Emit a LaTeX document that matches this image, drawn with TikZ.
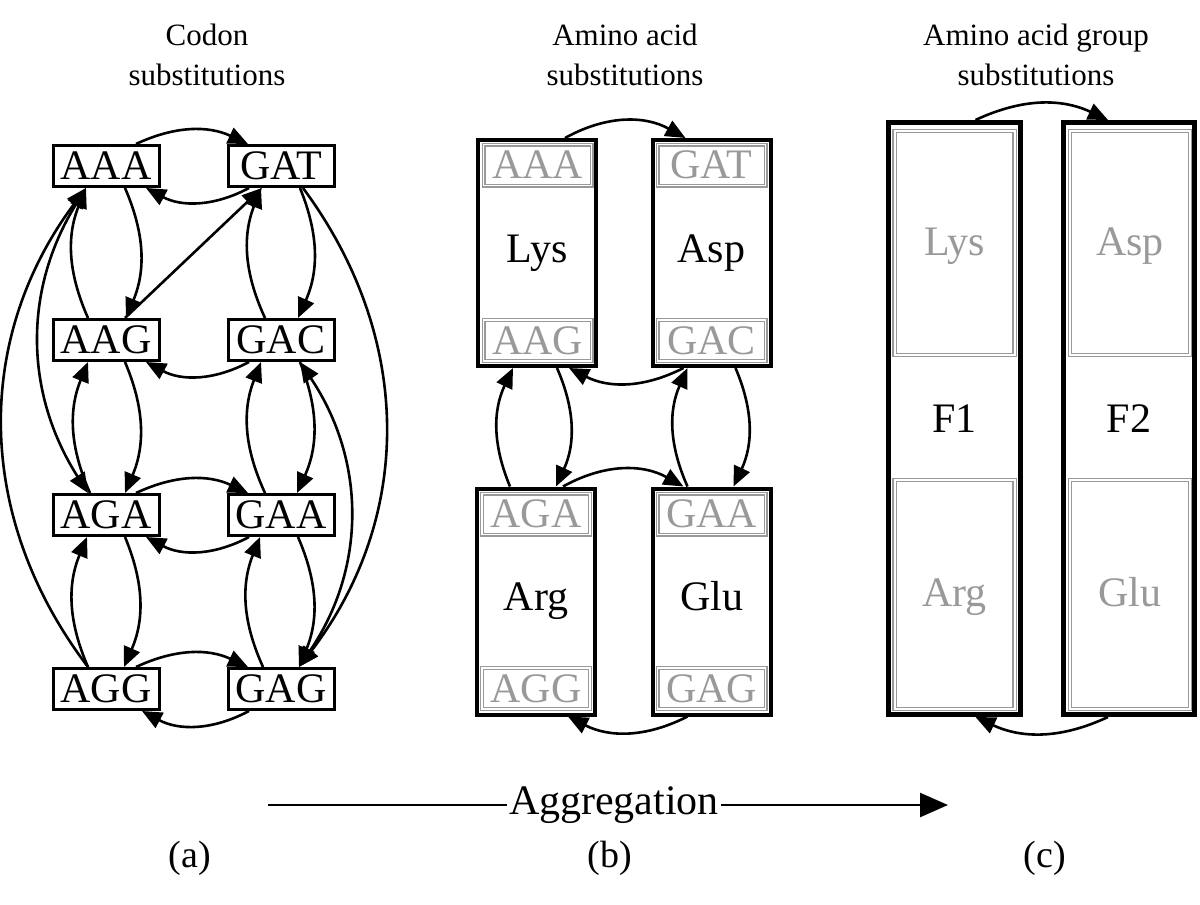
\documentclass[tikz,border=0pt]{standalone}
\usepackage{fontspec}
\setmainfont{Liberation Serif}
\usetikzlibrary{arrows.meta}
\definecolor{codongray}{HTML}{999999}

\begin{document}
\begin{tikzpicture}[x=0.5pt, y=0.5pt,
  >={Triangle[length=10pt,width=8.5pt]},
  edge/.style={line width=1.3pt},
  codon/.style={rectangle, draw=black, line width=1.5pt, minimum width=53pt, minimum height=20.5pt, inner sep=0pt, font=\fontsize{21pt}{25pt}\selectfont},
  acid/.style={rectangle, draw=black, line width=2pt, minimum width=59pt, minimum height=113pt, inner sep=0pt, text height=14.7pt, text depth=5.25pt, font=\fontsize{21pt}{25pt}\selectfont},
  graycodon/.style={rectangle, draw=codongray, line width=0.6pt, double=white, double distance=0.8pt, minimum width=54pt, minimum height=20.5pt, inner sep=0pt, text=codongray, font=\fontsize{21pt}{25pt}\selectfont},
  group/.style={rectangle, draw=black, line width=2.5pt, minimum width=66pt, minimum height=296pt, inner sep=0pt, font=\fontsize{21pt}{25pt}\selectfont},
  grayacid/.style={rectangle, draw=codongray, line width=0.6pt, double=white, double distance=1pt, minimum width=60pt, inner sep=0pt, text height=14.7pt, text depth=2.5pt, text=codongray, font=\fontsize{21pt}{25pt}\selectfont},
  title/.style={align=center, font=\fontsize{15.5pt}{20pt}\selectfont},
  caption/.style={font=\fontsize{19pt}{23pt}\selectfont}]
\useasboundingbox (0,0) rectangle (1200,-905);

\node[title] (ta) at (207,-55) {Codon\\substitutions};
\node[title] (tb) at (625,-55) {Amino acid\\substitutions};
\node[title] (tc) at (1036,-55) {Amino acid group\\substitutions};

% (a)
\node[codon] (AAA) at (106,-166) {AAA};
\node[codon] (GAT) at (281,-166) {GAT};
\node[codon] (AAG) at (106,-340) {AAG};
\node[codon] (GAC) at (281,-340) {GAC};
\node[codon] (AGA) at (106,-515) {AGA};
\node[codon] (GAA) at (281,-515) {GAA};
\node[codon] (AGG) at (106,-689) {AGG};
\node[codon] (GAG) at (281,-689) {GAG};

\draw[edge,->] ([xshift=15pt]AAA.north) to[bend left=25] ([xshift=-16.5pt]GAT.north);
\draw[edge,->] ([xshift=-16pt]GAT.south) to[bend left=28] ([xshift=20pt]AAA.south);
\draw[edge,->] ([xshift=-16pt]GAC.south) to[bend left=28] ([xshift=20pt]AAG.south);
\draw[edge,->] ([xshift=15pt]AGA.north) to[bend left=25] ([xshift=-16.5pt]GAA.north);
\draw[edge,->] ([xshift=-16pt]GAA.south) to[bend left=28] ([xshift=20pt]AGA.south);
\draw[edge,->] ([xshift=15pt]AGG.north) to[bend left=25] ([xshift=-16.5pt]GAG.north);
\draw[edge,->] ([xshift=-16pt]GAG.south) to[bend left=28] ([xshift=18pt]AGG.south);

\draw[edge,->] ([xshift=9.5pt]AAA.south) to[bend left=23] ([xshift=10pt]AAG.north);
\draw[edge,->] ([xshift=-9pt]AAG.north) to[bend left=23] ([xshift=-10pt]AAA.south);
\draw[edge,->] ([xshift=9.5pt]AAG.south) to[bend left=23] ([xshift=9.5pt]AGA.north);
\draw[edge,->] ([xshift=-8pt]AGA.north) to[bend left=23] ([xshift=-9pt]AAG.south);
\draw[edge,->] ([xshift=9.5pt]AGA.south) to[bend left=23] ([xshift=9pt]AGG.north);
\draw[edge,->] ([xshift=-9pt]AGG.north) to[bend left=23] ([xshift=-9.5pt]AGA.south);

\draw[edge,->] ([xshift=9.5pt]GAT.south) to[bend left=23] ([xshift=8.5pt]GAC.north);
\draw[edge,->] ([xshift=-8pt]GAC.north) to[bend left=23] ([xshift=-10pt]GAT.south);
\draw[edge,->] ([xshift=9.5pt]GAC.south) to[bend left=23] ([xshift=8pt]GAA.north);
\draw[edge,->] ([xshift=-8pt]GAA.north) to[bend left=23] ([xshift=-10pt]GAC.south);
\draw[edge,->] ([xshift=8.5pt]GAA.south) to[bend left=23] ([xshift=9pt]GAG.north);
\draw[edge,->] ([xshift=-9pt]GAG.north) to[bend left=23] ([xshift=-10.5pt]GAA.south);

\draw[edge,->] ([xshift=9.5pt]AAG.north) -- ([xshift=-9.5pt]GAT.south);
\draw[edge,<->] ([xshift=-10pt]AAA.south) to[bend right=32] ([xshift=-9pt]AGA.north);
\draw[edge,->] ([xshift=-9pt]AGG.north) to[bend left=37] ([xshift=-10pt]AAA.south);
\draw[edge,<->] ([xshift=9.5pt]GAC.south) to[bend left=34] ([xshift=9pt]GAG.north);
\draw[edge,->] ([xshift=11pt]GAT.south) to[bend left=37] ([xshift=9pt]GAG.north);

% (b)
\node[acid] (Lys) at (537,-253) {Lys};
\node[acid] (Asp) at (711.5,-253) {Asp};
\node[acid] (Arg) at (536,-601.5) {Arg};
\node[acid] (Glu) at (711.5,-601.5) {Glu};
\node[graycodon] (bAAA) at (537.5,-165) {AAA};
\node[graycodon] (bAAG) at (537.5,-340.5) {AAG};
\node[graycodon] (bGAT) at (711.5,-165) {GAT};
\node[graycodon] (bGAC) at (711.5,-340.5) {GAC};
\node[graycodon] (bAGA) at (536,-514) {AGA};
\node[graycodon] (bAGG) at (536,-688.5) {AGG};
\node[graycodon] (bGAA) at (711.5,-514) {GAA};
\node[graycodon] (bGAG) at (711.5,-688.5) {GAG};

\draw[edge,->] ([xshift=14pt]Lys.north) to[bend left=29] ([xshift=-13pt]Asp.north);
\draw[edge,->] ([xshift=-14pt]Asp.south) to[bend left=27] ([xshift=16pt]Lys.south);
\draw[edge,->] ([xshift=-13pt]Arg.north) to[bend left=24] ([xshift=-12pt]Lys.south);
\draw[edge,->] ([xshift=10pt]Lys.south) to[bend left=24] ([xshift=10pt]Arg.north);
\draw[edge,->] ([xshift=-12pt]Glu.north) to[bend left=24] ([xshift=-12pt]Asp.south);
\draw[edge,->] ([xshift=12pt]Asp.south) to[bend left=24] ([xshift=11pt]Glu.north);
\draw[edge,->] ([xshift=13.5pt]Arg.north) to[bend left=29] ([xshift=-14pt]Glu.north);
\draw[edge,->] ([xshift=-12pt]Glu.south) to[bend left=27] ([xshift=16pt]Arg.south);

% (c)
\node[group] (F1) at (954.5,-418.5) {F1};
\node[group, minimum width=65.5pt] (F2) at (1129,-418.5) {F2};
\node[grayacid, minimum height=112pt] (cLys) at (954.5,-243) {Lys};
\node[grayacid, minimum height=114.5pt] (cArg) at (954.5,-594.5) {Arg};
\node[grayacid, minimum height=112pt] (cAsp) at (1130,-243) {Asp};
\node[grayacid, minimum height=114.5pt] (cGlu) at (1130,-594.5) {Glu};

\draw[edge,->] ([xshift=10.5pt]F1.north) to[bend left=25] ([xshift=-10.5pt]F2.north);
\draw[edge,->] ([xshift=-10.5pt]F2.south) to[bend left=25] ([xshift=10.5pt]F1.south);

% aggregation
\node[inner sep=1pt, font=\fontsize{21pt}{25pt}\selectfont] (agg) at (614,-805) {Aggregation};
\coordinate (aggstart) at (268,-805);
\coordinate (aggend) at (948,-805);
\draw[line width=1.3pt] (aggstart) -- (agg.west);
\draw[line width=1.3pt, -{Triangle[length=14pt,width=12pt]}] (agg.east) -- (aggend);

\node[caption] (capa) at (190,-858) {(a)};
\node[caption] (capb) at (610,-858) {(b)};
\node[caption] (capc) at (1045,-858) {(c)};
\end{tikzpicture}
\end{document}
